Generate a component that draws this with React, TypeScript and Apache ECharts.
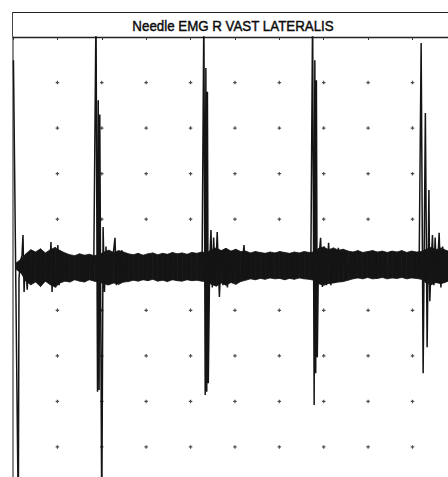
import React, { useEffect, useRef } from "react";
import * as echarts from "echarts";

// Time in ms (10 ms / division), amplitude in µV (100 µV / division)
const TITLE = "Needle EMG R VAST LATERALIS";
const X_MIN = 0;
const X_MAX = 98;
const Y_MIN = -466;
const Y_MAX = 500;

// Grid dot positions (division marks)
const gridTimes = [10, 20, 30, 40, 50, 60, 70, 80, 90];
const gridAmps = [-400, -300, -200, -100, 0, 100, 200, 300, 400];

// Dense interference band envelope: time (ms), lower and upper amplitude (µV)
const bandTime = [
  0.7, 1.8, 2.9, 4.0, 5.1, 6.2, 7.3, 8.4, 9.5, 10.6, 11.7, 12.8, 13.9, 15.0, 16.1, 17.2, 18.3,
  19.4, 20.5, 21.6, 22.7, 23.8, 24.9, 26.0, 27.1, 28.2, 29.3, 30.4, 31.5, 32.6, 33.7, 34.8,
  35.9, 37.0, 38.1, 39.2, 40.3, 41.4, 42.5, 43.6, 44.7, 45.8, 46.9, 48.0, 49.1, 50.2, 51.3,
  52.4, 53.5, 54.6, 55.7, 56.8, 57.9, 59.0, 60.1, 61.2, 62.3, 63.4, 64.5, 65.6, 66.7, 67.8,
  68.9, 70.0, 71.1, 72.2, 73.3, 74.4, 75.5, 76.6, 77.7, 78.8, 79.9, 81.0, 82.1, 83.2, 84.3,
  85.4, 86.5, 87.6, 88.7, 89.8, 90.9, 92.0, 93.1, 94.2, 95.3, 96.4, 97.5, 98.0,
];
const bandHigh = [
  4, 12, 24, 33, 28, 35, 26, 33, 38, 31, 26, 22, 20, 24, 21, 23, 20,
  22, 28, 32, 27, 31, 28, 24, 22, 25, 21, 24, 26, 22, 25, 23,
  27, 24, 26, 23, 27, 25, 28, 26, 33, 37, 31, 36, 30, 34, 29,
  30, 26, 29, 27, 25, 28, 26, 29, 27, 25, 28, 26, 29, 27, 28,
  36, 39, 33, 37, 32, 34, 30, 28, 31, 27, 29, 31, 28, 30, 27,
  30, 28, 31, 27, 30, 28, 29, 34, 38, 33, 37, 32, 30,
];
const bandLow = [
  -10, -18, -36, -44, -38, -48, -36, -44, -49, -40, -36, -38, -33, -36, -38, -33, -36,
  -38, -42, -44, -40, -43, -38, -37, -34, -36, -33, -35, -32, -36, -34, -37,
  -33, -35, -36, -33, -35, -34, -36, -37, -43, -47, -40, -45, -39, -43, -37,
  -34, -31, -33, -30, -32, -29, -31, -30, -33, -30, -32, -29, -31, -32, -34,
  -42, -45, -41, -40, -38, -37, -34, -31, -29, -31, -28, -31, -30, -28, -31,
  -29, -30, -28, -31, -29, -30, -32, -40, -44, -39, -42, -38, -36,
];

// Motor unit potentials and spikes: time (ms) and amplitude (µV)
const traceTime = [
  0.1, 1.2, 1.35, 1.7, 2.03, 2.25, 2.5, 2.8, 3.2, 3.6, 4.0, 4.5, 5.0, 8.3, 8.56, 8.8, 9.0,
  9.6, 10.1, 10.4, 10.8, 11.2, 12.0,
  18.2, 18.7, 19.04, 19.2, 19.4, 19.55, 20.0, 20.3, 20.6, 20.95, 21.3, 21.6, 22.0, 22.5, 22.98,
  23.3, 23.7, 24.1, 24.5, 25.0, 25.5, 26.0,
  42.6, 43.0, 43.3, 43.45, 43.65, 43.8, 44.0, 44.3, 44.6, 44.9, 45.2, 45.6, 46.0, 46.5, 46.9,
  47.3, 47.8, 48.3, 48.8, 49.3, 50.0, 50.5, 51.5, 52.04, 52.4, 53.0,
  67.1, 67.5, 67.85, 68.0, 68.2, 68.35, 68.55, 68.8, 69.3, 69.7, 70.1, 70.6, 71.1, 71.6, 72.1,
  72.6, 73.3, 73.8, 74.4, 75.0, 75.6,
  91.5, 91.95, 92.4, 92.9, 93.3, 93.7, 93.9, 94.2, 94.5, 94.8, 95.1, 95.5, 96.0, 96.4, 96.8,
  97.2, 97.7, 98.0,
];
const traceAmp = [
  449, -560, -30, 10, 20, 65, -60, 20, -55, 25, -40, 30, 0, 0, 50, -60, 10,
  -50, 43, -45, 30, -20, 0,
  0, 560, -279, 361, -275, 330, -560, 83, -60, 40, -45, 20, -40, 15, 59,
  -45, 25, -40, 32, -38, 10, 0,
  0, 560, -286, 432, -279, 380, -260, 0, 76, -50, 60, -40, 72, -71, 30,
  -45, 35, -50, 25, -35, 30, -40, -20, 43, -30, 0,
  0, 560, -308, 449, -238, 405, -203, 0, 59, -49, 40, -45, 48, -45, 30,
  -40, 37, -38, 25, -30, 0,
  0, 487, -238, 333, -181, 164, -80, 0, 65, -45, 60, -40, 70, -50, 40,
  -40, 30, -10,
];

const INK = "#141414";

export default function App() {
  const ref = useRef<HTMLDivElement>(null);

  useEffect(() => {
    if (!ref.current) return;
    const chart = echarts.init(ref.current, null, { renderer: "svg" });

    const bandData = bandTime.map((t, i) => [t, bandLow[i], bandHigh[i]]);
    const traceData = traceTime.map((t, i) => [t, traceAmp[i]]);
    const dotData: number[][] = [];
    gridTimes.forEach((t) => gridAmps.forEach((a) => dotData.push([t, a])));

    chart.setOption({
      animation: false,
      backgroundColor: "#ffffff",
      graphic: [
        {
          type: "line",
          silent: true,
          shape: { x1: 12, y1: 12.5, x2: 448, y2: 12.5 },
          style: { stroke: "#222", lineWidth: 1 },
        },
        {
          type: "line",
          silent: true,
          shape: { x1: 12.5, y1: 12, x2: 12.5, y2: 37 },
          style: { stroke: "#444", lineWidth: 1 },
        },
        {
          type: "text",
          silent: true,
          x: 233,
          y: 26,
          scaleX: 0.86,
          style: {
            text: TITLE,
            fill: "#0a0a0a",
            stroke: "#0a0a0a",
            lineWidth: 0.45,
            font: "15.5px 'Liberation Sans', Arial, sans-serif",
            textAlign: "center",
            textVerticalAlign: "middle",
          },
        },
      ],
      grid: { left: 13, right: 0, top: 37, bottom: 0, containLabel: false },
      xAxis: {
        type: "value",
        position: "top",
        min: X_MIN,
        max: X_MAX,
        interval: 10,
        axisLine: { show: true, onZero: false, lineStyle: { color: "#222", width: 1.3 } },
        axisTick: { show: true, inside: true, length: 3, lineStyle: { color: "#333" } },
        axisLabel: { show: false },
        splitLine: { show: false },
      },
      yAxis: {
        type: "value",
        min: Y_MIN,
        max: Y_MAX,
        axisLine: { show: true, onZero: false, lineStyle: { color: "#8a8a8a", width: 2 } },
        axisTick: { show: false },
        axisLabel: { show: false },
        splitLine: { show: false },
      },
      series: [
        {
          type: "scatter",
          data: dotData,
          symbol: "path://M1,0H2V1H3V2H2V3H1V2H0V1H1Z",
          symbolSize: 3.5,
          itemStyle: { color: "#222" },
          silent: true,
          z: 1,
        },
        {
          type: "custom",
          data: bandData,
          encode: { x: 0, y: [1, 2] },
          silent: true,
          z: 2,
          clip: true,
          renderItem: (params: any, api: any) => {
            const i = params.dataIndex;
            if (i >= bandData.length - 1) return null;
            const a = bandData[i];
            const b = bandData[i + 1];
            const p1 = api.coord([a[0], a[2]]);
            const p2 = api.coord([b[0], b[2]]);
            const p3 = api.coord([b[0], b[1]]);
            const p4 = api.coord([a[0], a[1]]);
            return {
              type: "polygon",
              shape: { points: [p1, p2, p3, p4] },
              style: { fill: INK, stroke: INK, lineWidth: 0.8 },
            };
          },
        },
        {
          type: "line",
          data: traceData,
          showSymbol: false,
          symbol: "none",
          clip: true,
          silent: true,
          z: 3,
          lineStyle: { color: INK, width: 1.5 },
        },
      ],
    });

    return () => chart.dispose();
  }, []);

  return (
    <div
      ref={ref}
      style={{ position: "absolute", left: 0, top: 0, width: 448, height: 477, background: "#fff" }}
    />
  );
}
